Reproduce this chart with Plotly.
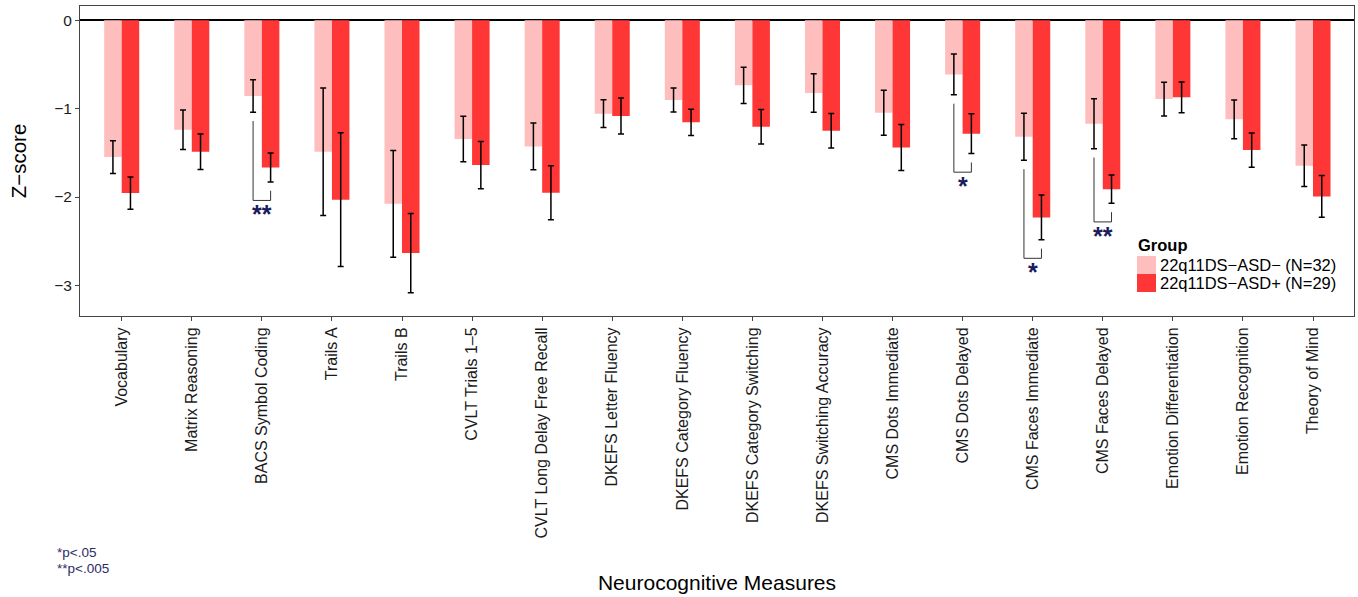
import plotly.graph_objects as go

categories = ["Vocabulary", "Matrix Reasoning", "BACS Symbol Coding", "Trails A", "Trails B",
              "CVLT Trials 1–5", "CVLT Long Delay Free Recall", "DKEFS Letter Fluency",
              "DKEFS Category Fluency", "DKEFS Category Switching", "DKEFS Switching Accuracy",
              "CMS Dots Immediate", "CMS Dots Delayed", "CMS Faces Immediate", "CMS Faces Delayed",
              "Emotion Differentiation", "Emotion Recognition", "Theory of Mind"]

asd_neg_mean = [-1.548, -1.239, -0.857, -1.488, -2.077, -1.344, -1.427, -1.057, -0.903,
                -0.736, -0.823, -1.046, -0.612, -1.318, -1.171, -0.891, -1.121, -1.646]
asd_neg_se = [0.185, 0.223, 0.183, 0.721, 0.604, 0.257, 0.265, 0.157, 0.136,
              0.206, 0.219, 0.254, 0.232, 0.267, 0.282, 0.191, 0.219, 0.234]

asd_pos_mean = [-1.956, -1.488, -1.665, -2.031, -2.635, -1.639, -1.952, -1.084, -1.155,
                -1.205, -1.250, -1.439, -1.284, -2.231, -1.911, -0.872, -1.469, -1.993]
asd_pos_se = [0.183, 0.200, 0.164, 0.757, 0.448, 0.267, 0.306, 0.204, 0.149,
              0.195, 0.195, 0.261, 0.225, 0.253, 0.161, 0.174, 0.194, 0.235]

group_names = ["22q11DS−ASD− (N=32)", "22q11DS−ASD+ (N=29)"]
group_colors = ["#FFBEBE", "#FF3636"]

sig_index = [2, 12, 13, 14]
sig_labels = ["**", "*", "*", "**"]

footnotes = ["*p<.05", "**p<.005"]

W, H = 1358, 597
ML, MR, MT, MB = 80, 4, 6, 281
PW, PH = W - ML - MR, H - MT - MB

x_idx = list(range(len(categories)))

fig = go.Figure()
for name, color, mean, se in [(group_names[0], group_colors[0], asd_neg_mean, asd_neg_se),
                              (group_names[1], group_colors[1], asd_pos_mean, asd_pos_se)]:
    fig.add_trace(go.Bar(
        x=x_idx, y=mean, name=name, marker=dict(color=color, line=dict(width=0)),
        error_y=dict(type="data", array=se, visible=True, color="black", thickness=1.5, width=3),
        showlegend=False, hoverinfo="skip",
    ))

# significance brackets
bw = 0.125
for i, lab in zip(sig_index, sig_labels):
    top_l = asd_neg_mean[i] - asd_neg_se[i] - 0.10
    top_r = asd_pos_mean[i] - asd_pos_se[i] - 0.10
    bottom = min(top_l, top_r) - 0.11
    fig.add_shape(type="path",
                  path=f"M {i - bw},{top_l} L {i - bw},{bottom} L {i + bw},{bottom} L {i + bw},{top_r}",
                  xref="x", yref="y", line=dict(color="#333333", width=1))
    fig.add_annotation(x=i, y=bottom, text=f"<b>{lab}</b>", showarrow=False, xref="x", yref="y",
                       yanchor="top", yshift=2,
                       font=dict(family="Liberation Sans", size=25, color="#1c1c5c"))


def px_x(p):
    return (p - ML) / PW


def px_y(p):
    return (MT + PH - p) / PH


# manual legend
fig.add_annotation(x=px_x(1136), y=px_y(245), xref="paper", yref="paper", text="<b>Group</b>",
                   showarrow=False, xanchor="left", yanchor="middle",
                   font=dict(family="Liberation Sans", size=16.5, color="black"))
key_tops = [256, 274]
for k, (name, color) in enumerate(zip(group_names, group_colors)):
    y0 = key_tops[k]
    fig.add_shape(type="rect", xref="paper", yref="paper",
                  x0=px_x(1137), x1=px_x(1156), y0=px_y(y0), y1=px_y(y0 + 18),
                  fillcolor=color, line=dict(width=0))
    fig.add_annotation(x=px_x(1158), y=px_y(y0 + 9), xref="paper", yref="paper", text=name,
                       showarrow=False, xanchor="left", yanchor="middle",
                       font=dict(family="Liberation Sans", size=16.5, color="black"))

# footnotes
for k, t in enumerate(footnotes):
    fig.add_annotation(x=px_x(55), y=px_y(552 + 16.5 * k), xref="paper", yref="paper", text=t,
                       showarrow=False, xanchor="left", yanchor="middle",
                       font=dict(family="Liberation Sans", size=13.5, color="#2e2a66"))

axis_common = dict(showline=True, linecolor="#444444", linewidth=1, mirror=True,
                   ticks="outside", ticklen=4, tickcolor="#444444", tickwidth=1,
                   showgrid=False)

fig.update_layout(
    width=W, height=H,
    margin=dict(l=ML, r=MR, t=MT, b=MB),
    paper_bgcolor="white", plot_bgcolor="white",
    barmode="group", bargap=0.5, bargroupgap=0,
    font=dict(family="Liberation Sans", color="black"),
    xaxis=dict(range=[-0.595, 17.585], tickmode="array", tickvals=x_idx, ticktext=categories,
               tickangle=-90, tickfont=dict(size=16, color="#1a1a1a"), zeroline=False,
               automargin=False,
               title=dict(text="Neurocognitive Measures", font=dict(size=21, color="black"),
                          standoff=37),
               **axis_common),
    yaxis=dict(range=[-3.347, 0.162], tickmode="array", tickvals=[0, -1, -2, -3],
               tickfont=dict(size=15.5, color="#1a1a1a"),
               zeroline=True, zerolinecolor="black", zerolinewidth=1.5,
               automargin=False,
               title=dict(text="Z−score", font=dict(size=20.5, color="black"), standoff=22),
               **axis_common),
)

fig.write_html("out.html", config={"displayModeBar": False},
               post_script="document.body.style.margin='0';document.body.style.overflow='hidden';")
